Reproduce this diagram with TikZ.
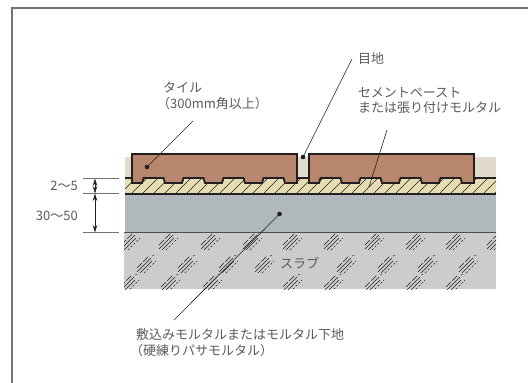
\documentclass[tikz,border=0pt]{standalone}
\usepackage{fontspec}
\setmainfont{Noto Sans CJK JP}
\usetikzlibrary{arrows.meta}
\definecolor{txt}{HTML}{5A5A5A}
\definecolor{tile}{HTML}{B8866C}
\definecolor{joint}{HTML}{E1DBCB}
\definecolor{mortar}{HTML}{E6DDB4}
\definecolor{base}{HTML}{B1B8BC}
\definecolor{slab}{HTML}{CBCCCE}
\definecolor{ink}{HTML}{231F20}
\tikzset{
  x=1pt,y=-1pt,
  lbl/.style={inner sep=0pt,anchor=west,align=left,text=txt,font=\fontsize{13}{15.8}\selectfont},
  tileshape/.style={draw=ink,fill=tile,line width=1.8pt,line join=miter},
  leader/.style={draw=ink,line width=0.6pt},
  dotmark/.style={circle,fill=ink,inner sep=0pt,minimum size=4.6pt},
  tick/.style={draw=black!55,line width=0.8pt},
  dimarrow/.style={draw=ink,line width=0.6pt,{Stealth[length=7.5pt,width=4.5pt]}-{Stealth[length=7.5pt,width=4.5pt]}},
  hatchline/.style={draw=ink,line width=0.6pt},
  slabline/.style={draw=ink,line width=0.5pt},
}
\newcommand{\slabgroup}[2]{%
  \begin{scope}[shift={(#1,#2)}]
    \draw[slabline] (-9,9) -- (5,-5);
    \draw[slabline] (-6,10) -- (6,-2);
    \draw[slabline,dash pattern=on 7pt off 2pt] (-9,5) -- (3,-7);
    \draw[slabline,dash pattern=on 2pt off 2pt] (-2,10) -- (10,-2);
    \draw[slabline,dash pattern=on 2pt off 2pt] (6,-7) -- (10,-8);
  \end{scope}}
\newcommand{\tilepath}[1]{%
  \begin{scope}[shift={(#1,0)}]
    \draw[tileshape] (0,154) -- (165,154) -- (165,183)
      \foreach \n in {131,91,51,11} { -- (\n+22,183) -- (\n+20.5,178) -- (\n+0.5,178) -- (\n-1,183) }
      -- (0,183) -- cycle;
  \end{scope}}
\begin{document}
\begin{tikzpicture}
\useasboundingbox (0,0) rectangle (528,383);
\draw[draw=black!55,line width=1.4pt] (12,383) -- (12,8) -- (528,8);
% joint background
\fill[joint] (125,157) rectangle (496,178);
% mortar
\fill[mortar] (125,178) rectangle (496,194);
\begin{scope}
  \clip (125,178) rectangle (496,194);
  \foreach \i in {0,...,36} {
    \draw[hatchline] ({118+\i*11},196) -- ({138+\i*11},176);
  }
\end{scope}
\draw[draw=ink,line width=1.2pt] (125,178) -- (496,178);
% base
\fill[base] (125,194) rectangle (496,232);
\draw[draw=ink,line width=1.3pt] (125,194) -- (496,194);
% slab
\fill[slab] (124,232) rectangle (496,289);
\begin{scope}
  \clip (124,233) rectangle (496,289);
  \foreach \t in {130,168,210,252,292,333,374,415,455,496} { \slabgroup{\t}{240} }
  \foreach \t in {146,187,228,264,346,387,427,468} { \slabgroup{\t}{263} }
  \foreach \t in {129,170,212,292,333,374,415,455} { \slabgroup{\t}{282} }
\end{scope}
\draw[draw=ink!80,line width=1.1pt] (124,232.5) -- (496,232.5);
% tiles
\tilepath{132}
\tilepath{309}
% dimensions
\coordinate (tl) at (83,178.5); \coordinate (tr) at (119,178.5);
\coordinate (ml) at (83,193.5); \coordinate (mr) at (119,193.5);
\coordinate (bl) at (83,232.5); \coordinate (br) at (119,232.5);
\draw[tick] (tl) -- (tr);
\draw[tick] (ml) -- (mr);
\draw[tick] (bl) -- (br);
\coordinate (a1) at (95,178.5); \coordinate (a2) at (95,193.5); \coordinate (a3) at (95,232.5);
\draw[dimarrow] (a1) -- (a2);
\draw[dimarrow] (a2) -- (a3);
\node[lbl,anchor=east] (dimA) at (78,186) {2〜5};
\node[lbl,anchor=east] (dimB) at (78,216) {30〜50};
% labels
\node[lbl] (tilelabel) at (163,96) {タイル\\\hspace*{-6pt}（300mm角以上）};
\node[lbl] (jointlabel) at (358,59) {目地};
\node[lbl] (pastelabel) at (358,100.5) {セメントペースト\\または張り付けモルタル};
\node[lbl] (slablabel) at (280,263) {スラブ};
\node[lbl] (baselabel) at (136,342.5) {敷込みモルタルまたはモルタル下地\\\hspace*{-6pt}（硬練りパサモルタル）};
% leaders
\node[dotmark] (tiledot) at (147,167) {};
\coordinate (tileend) at (193,121);
\draw[leader] (tiledot.center) -- (tileend);
\node[dotmark] (jointdot) at (303,157) {};
\coordinate (jointend) at (352,59);
\draw[leader] (jointdot.center) -- (jointend);
\coordinate (pastedot) at (369,187);
\coordinate (pasteend) at (387,130);
\draw[leader] (pastedot) -- (pasteend);
\node[dotmark] (basedot) at (279.5,214) {};
\coordinate (baseend) at (174,320);
\draw[leader] (basedot.center) -- (baseend);
\end{tikzpicture}
\end{document}
